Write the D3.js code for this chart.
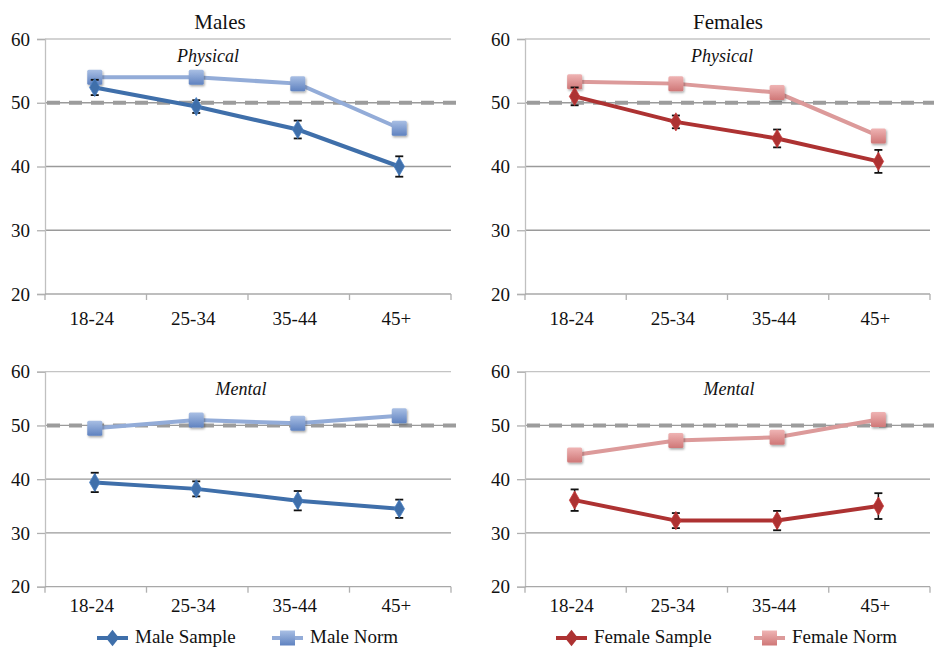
<!DOCTYPE html>
<html>
<head>
<meta charset="utf-8">
<script src="https://cdnjs.cloudflare.com/ajax/libs/d3/7.8.5/d3.min.js"></script>
</head>
<body style="margin:0;background:#fff">
<svg id="chart" width="934" height="648"></svg>
<script>
// categories and ticks
var ageGroups = ["18-24", "25-34", "35-44", "45+"];
var yTicks = [20, 30, 40, 50, 60];
var normLine = 50;

// Males - physical
var malePhysSample = [52.4, 49.4, 45.8, 40.0];
var malePhysErr    = [1.2, 1.0, 1.4, 1.6];
var malePhysNorm   = [54.0, 54.0, 53.0, 46.0];
// Males - mental
var maleMentSample = [39.4, 38.2, 36.0, 34.5];
var maleMentErr    = [1.8, 1.4, 1.8, 1.7];
var maleMentNorm   = [49.5, 51.0, 50.4, 51.8];
// Females - physical
var femPhysSample = [51.0, 47.0, 44.4, 40.8];
var femPhysErr    = [1.4, 1.0, 1.4, 1.8];
var femPhysNorm   = [53.3, 53.0, 51.6, 44.8];
// Females - mental
var femMentSample = [36.1, 32.3, 32.3, 35.0];
var femMentErr    = [2.0, 1.4, 1.8, 2.4];
var femMentNorm   = [44.5, 47.2, 47.8, 51.1];

var FONT = "'Liberation Serif', 'Times New Roman', Times, 'DejaVu Serif', serif";

var colors = {
  male:   { sample: "#3f6faa", norm: "#93acd8", sq1: "#a9bfe4", sq2: "#5f82c0" },
  female: { sample: "#ad3232", norm: "#dc9a9a", sq1: "#efb4b4", sq2: "#cf7777" }
};

var svg = d3.select("#chart");

var defs = svg.append("defs");
["male", "female"].forEach(function(g) {
  var grad = defs.append("linearGradient").attr("id", "sq-" + g)
    .attr("x1", 0).attr("y1", 0).attr("x2", 0).attr("y2", 1);
  grad.append("stop").attr("offset", "0%").attr("stop-color", colors[g].sq1);
  grad.append("stop").attr("offset", "100%").attr("stop-color", colors[g].sq2);
});
var shadow = defs.append("filter").attr("id", "shadow")
  .attr("x", "-50%").attr("y", "-50%").attr("width", "200%").attr("height", "200%");
shadow.append("feDropShadow").attr("dx", 1).attr("dy", 1.5).attr("stdDeviation", 1.2)
  .attr("flood-color", "#000").attr("flood-opacity", 0.35);

var panels = [
  { group: "male",   title: "Males",   label: "Physical", labelX: 208, labelY: 62,
    sample: malePhysSample, err: malePhysErr, norm: malePhysNorm,
    x0: 45, x1: 451, y0: 294, y1: 39, dashEnd: 458, titleX: 220, titleY: 29, xlabY: 325 },
  { group: "female", title: "Females", label: "Physical", labelX: 722, labelY: 62,
    sample: femPhysSample, err: femPhysErr, norm: femPhysNorm,
    x0: 525, x1: 930, y0: 294, y1: 39, dashEnd: 934, titleX: 728, titleY: 29, xlabY: 325 },
  { group: "male",   title: null, label: "Mental", labelX: 241, labelY: 395,
    sample: maleMentSample, err: maleMentErr, norm: maleMentNorm,
    x0: 45, x1: 451, y0: 586.7, y1: 371.7, dashEnd: 458, xlabY: 611.5 },
  { group: "female", title: null, label: "Mental", labelX: 729, labelY: 395,
    sample: femMentSample, err: femMentErr, norm: femMentNorm,
    x0: 525, x1: 930, y0: 586.7, y1: 371.7, dashEnd: 934, xlabY: 611.5 }
];

var diamond = d3.symbol().type(d3.symbolDiamond).size(95);

panels.forEach(function(p) {
  var g = svg.append("g");
  var x = d3.scaleBand().domain(ageGroups).range([p.x0, p.x1]);
  var y = d3.scaleLinear().domain([20, 60]).range([p.y0, p.y1]);
  var cx = function(d, i) { return x(ageGroups[i]) + x.bandwidth() / 2 - 1; };
  var c = colors[p.group];

  // gridlines
  g.selectAll(".grid").data(yTicks.slice(1)).enter().append("line")
    .attr("x1", p.x0).attr("x2", p.x1)
    .attr("y1", function(d) { return y(d); }).attr("y2", function(d) { return y(d); })
    .attr("stroke", function(d) { return d === 60 ? "#c4c4c4" : "#9a9a9a"; })
    .attr("stroke-width", 1.3);

  // y axis
  var yAxis = d3.axisLeft(y).tickValues(yTicks).tickSize(8).tickPadding(7).tickFormat(d3.format("d"));
  var ya = g.append("g").attr("transform", "translate(" + p.x0 + ",0)").call(yAxis)
    .attr("font-family", null).attr("font-size", null);
  ya.select(".domain").attr("stroke", "#c0c0c0").attr("stroke-width", 1.3);
  ya.selectAll(".tick line").attr("stroke", "#b0b0b0").attr("stroke-width", 1.3);
  ya.selectAll(".tick text").style("font-size", "19px").attr("fill", "#111")
    .style("font-family", FONT);

  // x axis
  var xa = g.append("g").attr("transform", "translate(0," + p.y0 + ")");
  xa.append("line").attr("x1", p.x0).attr("x2", p.x1).attr("stroke", "#a8a8a8").attr("stroke-width", 1.3);
  xa.selectAll(".xt").data(ageGroups.concat(["end"])).enter().append("line")
    .attr("x1", function(d, i) { return p.x0 + i * x.bandwidth(); })
    .attr("x2", function(d, i) { return p.x0 + i * x.bandwidth(); })
    .attr("y1", 0).attr("y2", 6).attr("stroke", "#b0b0b0").attr("stroke-width", 1.3);
  g.selectAll(".xl").data(ageGroups).enter().append("text")
    .attr("x", function(d, i) { return cx(d, i) - 3; })
    .attr("y", p.xlabY).attr("text-anchor", "middle")
    .style("font-family", FONT).style("font-size", "19px").attr("fill", "#111")
    .text(function(d) { return d; });

  // dashed norm reference line
  g.append("line").attr("x1", p.x0 + 2).attr("x2", p.dashEnd)
    .attr("y1", y(normLine)).attr("y2", y(normLine))
    .attr("stroke", "#9c9c9c").attr("stroke-width", 4).attr("stroke-dasharray", "13,9");

  // norm line + squares
  var line = d3.line().x(cx).y(function(d) { return y(d); });
  g.append("path").datum(p.norm).attr("d", line).attr("fill", "none")
    .attr("stroke", c.norm).attr("stroke-width", 4);
  g.selectAll(".sq").data(p.norm).enter().append("rect")
    .attr("x", function(d, i) { return cx(d, i) - 7.5; })
    .attr("y", function(d) { return y(d) - 7.5; })
    .attr("width", 15).attr("height", 15).attr("rx", 1.5)
    .attr("fill", "url(#sq-" + p.group + ")").attr("filter", "url(#shadow)");

  // sample line
  g.append("path").datum(p.sample).attr("d", line).attr("fill", "none")
    .attr("stroke", c.sample).attr("stroke-width", 4);

  // error bars
  var eb = g.selectAll(".eb").data(p.sample).enter().append("g");
  eb.append("line")
    .attr("x1", cx).attr("x2", cx)
    .attr("y1", function(d, i) { return y(d + p.err[i]); })
    .attr("y2", function(d, i) { return y(d - p.err[i]); })
    .attr("stroke", "#111").attr("stroke-width", 1.5);
  [1, -1].forEach(function(s) {
    eb.append("line")
      .attr("x1", function(d, i) { return cx(d, i) - 4; })
      .attr("x2", function(d, i) { return cx(d, i) + 4; })
      .attr("y1", function(d, i) { return y(d + s * p.err[i]); })
      .attr("y2", function(d, i) { return y(d + s * p.err[i]); })
      .attr("stroke", "#111").attr("stroke-width", 1.8);
  });

  // diamonds
  g.selectAll(".dm").data(p.sample).enter().append("path")
    .attr("d", diamond)
    .attr("transform", function(d, i) { return "translate(" + cx(d, i) + "," + y(d) + ")"; })
    .attr("fill", c.sample).attr("stroke", d3.color(c.sample).brighter(0.4)).attr("stroke-width", 0.8);

  // panel labels
  if (p.title) {
    g.append("text").attr("x", p.titleX).attr("y", p.titleY).attr("text-anchor", "middle")
      .style("font-family", FONT).style("font-size", "21px").attr("fill", "#111").text(p.title);
  }
  g.append("text").attr("x", p.labelX).attr("y", p.labelY).attr("text-anchor", "middle")
    .style("font-family", FONT).style("font-size", "18px").style("font-style", "italic")
    .attr("fill", "#111").text(p.label);
});

// legend
var legendItems = [
  { name: "Male Sample",   group: "male",   kind: "sample", x: 97 },
  { name: "Male Norm",     group: "male",   kind: "norm",   x: 272 },
  { name: "Female Sample", group: "female", kind: "sample", x: 556 },
  { name: "Female Norm",   group: "female", kind: "norm",   x: 754 }
];
var ly = 638;
var lg = svg.selectAll(".legend").data(legendItems).enter().append("g");
lg.append("line")
  .attr("x1", function(d) { return d.x; }).attr("x2", function(d) { return d.x + 31; })
  .attr("y1", ly).attr("y2", ly)
  .attr("stroke", function(d) { return colors[d.group][d.kind]; }).attr("stroke-width", 4);
lg.filter(function(d) { return d.kind === "sample"; }).append("path")
  .attr("d", diamond)
  .attr("transform", function(d) { return "translate(" + (d.x + 15.5) + "," + ly + ") scale(1.25,0.9)"; })
  .attr("fill", function(d) { return colors[d.group].sample; });
lg.filter(function(d) { return d.kind === "norm"; }).append("rect")
  .attr("x", function(d) { return d.x + 8; }).attr("y", ly - 7.5)
  .attr("width", 15).attr("height", 15)
  .attr("fill", function(d) { return "url(#sq-" + d.group + ")"; });
lg.append("text")
  .attr("x", function(d) { return d.x + 38; }).attr("y", 643)
  .style("font-family", FONT).style("font-size", "19px").attr("fill", "#111")
  .text(function(d) { return d.name; });
</script>
</body>
</html>
